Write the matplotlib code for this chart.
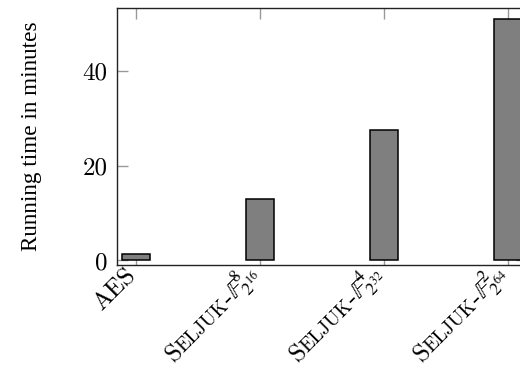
import matplotlib
matplotlib.use("Agg")
import matplotlib.pyplot as plt
import matplotlib.transforms as mtransforms
from matplotlib.font_manager import FontProperties
import numpy as np

plt.rcParams['mathtext.fontset'] = 'cm'
plt.rcParams['font.family'] = ['cmr10', 'DejaVu Serif']
plt.rcParams['axes.formatter.use_mathtext'] = True

categories = ["AES", "Seljuk-F8_2^16", "Seljuk-F4_2^32", "Seljuk-F2_2^64"]
running_time = [1.4, 13.0, 27.5, 50.9]
# label pieces: (text, size factor)
label_pieces = [
    [("AES", 1.0)],
    [("S", 1.0), ("ELJUK", 0.78), ("-", 1.0), (r"$\mathbb{F}^{8}_{2^{16}}$", 1.0)],
    [("S", 1.0), ("ELJUK", 0.78), ("-", 1.0), (r"$\mathbb{F}^{4}_{2^{32}}$", 1.0)],
    [("S", 1.0), ("ELJUK", 0.78), ("-", 1.0), (r"$\mathbb{F}^{2}_{2^{64}}$", 1.0)],
]
yticks = [0, 20, 40]

FS = 18
fig = plt.figure(figsize=(5.2, 3.68), dpi=100)
ax = fig.add_axes([117/520, (368-265)/368, 410/520, (265-8)/368])

x = np.arange(len(categories))
ax.bar(x, running_time, width=0.22, color="#7f7f7f", edgecolor="black", linewidth=1.1, zorder=3)

ax.set_xlim(-0.153, 3.153)
ax.set_ylim(-0.95, 53.3)
ax.set_yticks(yticks)
ax.set_yticklabels([str(t) for t in yticks], fontsize=FS)
ax.set_xticks(x)
ax.set_xticklabels([])
ax.tick_params(axis='both', direction='in', length=8, width=1.0, color="#999999")
ax.tick_params(axis='x', top=True, bottom=True)
ax.tick_params(axis='y', left=True, right=True, pad=7)
for s in ax.spines.values():
    s.set_linewidth(1.0)
    s.set_color("#222222")
ax.set_ylabel("Running time in minutes", fontsize=16.7, family=['Liberation Serif'])
ax.yaxis.set_label_coords(-75/410, 0.5)

# rotated multi-piece tick labels
renderer = fig.canvas.get_renderer()
ang = np.deg2rad(45)
d = np.array([np.cos(ang), np.sin(ang)])
p = np.array([-np.sin(ang), np.cos(ang)])
inner = 0.333 * FS * 0.9
base_tr = mtransforms.blended_transform_factory(ax.transData, ax.transAxes)
for xi, pieces in zip(x, label_pieces):
    widths = []
    tops = []
    bots = []
    for txt, f in pieces:
        ismath = txt.startswith("$")
        fp = FontProperties(family=['cmr10'], size=FS * f,
                            math_fontfamily='stix' if ismath else 'cm')
        w, h, dsc = renderer.get_text_width_height_descent(txt, fp, ismath=ismath)
        k = 72.0 / fig.dpi
        widths.append(w * k)
        tops.append((h - dsc) * k)
        bots.append(-dsc * k)
    W = sum(widths)
    mid = (max(tops) + min(bots)) / 2.0
    east = -inner * d
    start = east - W * d - mid * p
    cum = 0.0
    for (txt, f), w in zip(pieces, widths):
        ismath = txt.startswith("$")
        pos = start + cum * d
        tr = base_tr + mtransforms.ScaledTranslation(pos[0] / 72.0, pos[1] / 72.0, fig.dpi_scale_trans)
        ax.text(xi, 0, txt, transform=tr, rotation=45, rotation_mode='anchor',
                ha='left', va='baseline', fontsize=FS * f, family=['cmr10'],
                math_fontfamily='stix' if ismath else 'cm', clip_on=False)
        cum += w

fig.savefig("out.png", dpi=100)
